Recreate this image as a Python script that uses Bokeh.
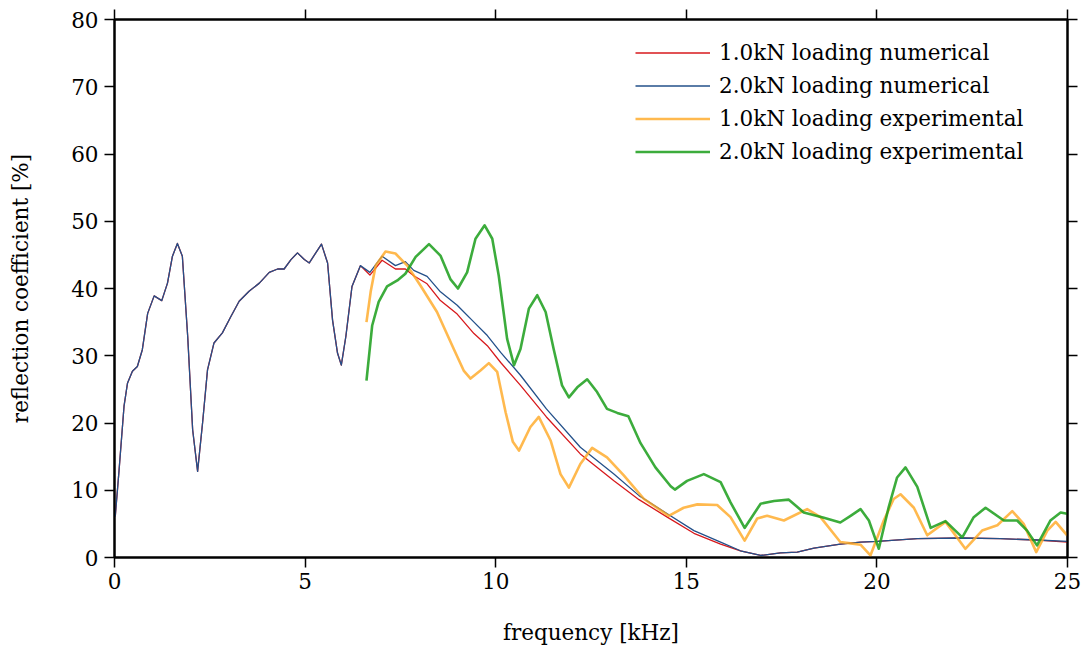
from bokeh.plotting import figure
from bokeh.models import Range1d, LinearAxis, FixedTicker, Legend, LegendItem
from bokeh.embed import file_html
from bokeh.resources import INLINE

# ---------------- data ----------------
# shared numerical part (both loadings coincide below ~6.5 kHz)
num_f_common = [0.02, 0.12, 0.25, 0.34, 0.47, 0.60, 0.73, 0.87, 1.04, 1.24, 1.39, 1.52, 1.65,
                1.78, 1.92, 2.05, 2.18, 2.31, 2.44, 2.61, 2.83, 3.05, 3.27, 3.53, 3.80, 4.06,
                4.28, 4.45, 4.63, 4.80, 4.98, 5.11, 5.28, 5.43, 5.59, 5.72, 5.85, 5.95, 6.07,
                6.23, 6.45]
num_v_common = [6.1, 13.0, 22.5, 25.9, 27.7, 28.4, 30.9, 36.3, 38.9, 38.2, 40.8, 44.8, 46.7,
                44.8, 32.9, 19.0, 12.8, 20.0, 27.9, 31.9, 33.4, 35.8, 38.1, 39.6, 40.8, 42.4,
                42.9, 42.9, 44.3, 45.3, 44.3, 43.8, 45.3, 46.6, 43.8, 35.3, 30.4, 28.6, 32.9,
                40.3, 43.4]

# diverging numerical part
num_f_tail = [6.70, 7.02, 7.37, 7.63, 7.85, 8.20, 8.55, 8.99, 9.43, 9.78, 10.13, 10.65, 11.33,
              12.22, 13.10, 13.76, 14.50, 15.20, 15.90, 16.42, 16.95, 17.47, 17.91, 18.35,
              19.04, 19.57, 20.01, 21.06, 22.19, 23.24, 24.20, 25.0]
num1_v_tail = [42.0, 44.2, 42.9, 42.9, 41.9, 40.7, 38.2, 36.2, 33.3, 31.5, 29.0, 25.6, 20.9,
               15.4, 11.4, 8.6, 6.0, 3.6, 2.0, 1.0, 0.3, 0.7, 0.8, 1.4,
               2.0, 2.3, 2.4, 2.8, 2.9, 2.8, 2.6, 2.3]
num2_v_tail = [42.4, 44.8, 43.4, 44.0, 42.7, 41.8, 39.5, 37.5, 35.0, 33.0, 30.5, 27.1, 22.1,
               16.4, 12.4, 9.2, 6.5, 4.0, 2.3, 1.0, 0.3, 0.7, 0.8, 1.4,
               2.0, 2.3, 2.4, 2.8, 2.9, 2.8, 2.6, 2.4]

exp1_f = [6.61, 6.72, 6.85, 7.11, 7.37, 7.68, 8.03, 8.46, 8.90, 9.16, 9.34, 9.60, 9.82, 10.04,
          10.26, 10.45, 10.61, 10.91, 11.13, 11.44, 11.70, 11.92, 12.22, 12.53, 12.92, 13.36,
          13.89, 14.15, 14.54, 14.93, 15.29, 15.81, 16.16, 16.53, 16.86, 17.12, 17.56, 18.17,
          18.52, 19.04, 19.31, 19.57, 19.83, 20.18, 20.44, 20.62, 20.97, 21.32, 21.80, 22.32,
          22.76, 23.16, 23.55, 23.85, 24.18, 24.47, 24.69, 24.99]
exp1_v = [35.0, 39.5, 43.4, 45.5, 45.2, 43.4, 40.4, 36.5, 31.0, 27.8, 26.6, 27.8, 28.9, 27.6,
          21.6, 17.2, 15.9, 19.4, 20.9, 17.4, 12.4, 10.4, 13.9, 16.3, 14.9, 12.2,
          8.7, 7.7, 6.2, 7.4, 7.9, 7.8, 6.0, 2.5, 5.8, 6.2, 5.5, 7.2,
          6.0, 2.3, 2.1, 1.9, 0.3, 5.5, 8.7, 9.4, 7.4, 3.3, 5.3, 1.3,
          4.0, 4.8, 6.9, 5.0, 0.8, 4.0, 5.3, 3.3]

exp2_f = [6.61, 6.76, 6.93, 7.15, 7.42, 7.63, 7.90, 8.25, 8.55, 8.81, 9.01, 9.25, 9.47, 9.71,
          9.91, 10.08, 10.30, 10.48, 10.65, 10.87, 11.09, 11.31, 11.52, 11.74, 11.92, 12.14,
          12.40, 12.66, 12.92, 13.19, 13.48, 13.80, 14.19, 14.59, 14.70, 15.02, 15.46, 15.90,
          16.16, 16.53, 16.95, 17.30, 17.69, 18.08, 18.61, 19.04, 19.31, 19.57, 19.79, 20.05,
          20.31, 20.53, 20.75, 21.06, 21.41, 21.80, 22.24, 22.54, 22.85, 23.33, 23.68, 23.94,
          24.20, 24.55, 24.82, 24.99]
exp2_v = [26.3, 34.5, 38.0, 40.3, 41.2, 42.2, 44.7, 46.6, 44.9, 41.4, 40.0, 42.4, 47.4, 49.4,
          47.4, 41.9, 32.5, 28.6, 31.0, 37.0, 39.0, 36.5, 31.0, 25.6, 23.8, 25.3,
          26.5, 24.6, 22.1, 21.5, 21.0, 17.0, 13.4, 10.6, 10.1, 11.4, 12.4, 11.2,
          8.2, 4.4, 8.0, 8.4, 8.6, 6.7, 5.9, 5.2, 6.2, 7.2, 5.5, 1.3,
          7.5, 11.9, 13.4, 10.5, 4.4, 5.4, 3.0, 6.0, 7.4, 5.5, 5.5, 4.0,
          1.8, 5.5, 6.7, 6.5]

labels = ["1.0kN loading numerical", "2.0kN loading numerical",
          "1.0kN loading experimental", "2.0kN loading experimental"]
x_ticks = [0, 5, 10, 15, 20, 25]
y_ticks = [0, 10, 20, 30, 40, 50, 60, 70, 80]

FONT = "DejaVu Serif"
FS = "21.5px"

# ---------------- figure ----------------
p = figure(width=1085, height=653, x_range=Range1d(0, 25), y_range=Range1d(0, 80),
           output_backend="svg", toolbar_location=None,
           min_border_left=114, min_border_right=18, min_border_top=19, min_border_bottom=96)
p.grid.visible = False
p.outline_line_color = "black"
p.outline_line_width = 2
p.background_fill_color = "white"
p.border_fill_color = "white"

def style_axis(ax, ticks, labelled=True):
    ax.ticker = FixedTicker(ticks=ticks)
    ax.axis_line_color = "black"
    ax.axis_line_width = 2
    ax.major_tick_line_color = "black"
    ax.major_tick_line_width = 1.5
    ax.major_tick_in = 0
    ax.major_tick_out = 10
    ax.minor_tick_line_color = None
    ax.major_label_text_font = FONT
    ax.major_label_text_color = "black"
    ax.major_label_text_font_size = FS
    if not labelled:
        ax.major_label_overrides = {t: "" for t in ticks}
        ax.major_label_standoff = 0
    ax.axis_label_text_font = FONT
    ax.axis_label_text_font_size = FS
    ax.axis_label_text_font_style = "normal"
    ax.axis_label_text_color = "black"

p.xaxis.axis_label = "frequency [kHz]"
p.yaxis.axis_label = "reflection coefficient [%]"
style_axis(p.xaxis[0], x_ticks)
style_axis(p.yaxis[0], y_ticks)
p.xaxis.major_label_standoff = 5
p.yaxis.major_label_standoff = 6
p.xaxis.axis_label_standoff = 28
p.yaxis.axis_label_standoff = 35

top_ax = LinearAxis()
right_ax = LinearAxis()
style_axis(top_ax, x_ticks, labelled=False)
style_axis(right_ax, y_ticks, labelled=False)
p.add_layout(top_ax, "above")
p.add_layout(right_ax, "right")

num1_f = num_f_common + num_f_tail
num1_v = num_v_common + num1_v_tail
num2_v = num_v_common + num2_v_tail

r1 = p.line(num1_f, num1_v, line_color="#d7191c", line_width=1.3, line_join="round")
r2 = p.line(num1_f, num2_v, line_color="#23508a", line_width=1.3, line_join="round")
r3 = p.line(exp1_f, exp1_v, line_color="#ffa722", line_width=2.6, line_alpha=0.8, line_join="round")
r4 = p.line(exp2_f, exp2_v, line_color="#1a9e1a", line_width=2.6, line_alpha=0.85, line_join="round")

legend = Legend(items=[LegendItem(label=labels[0], renderers=[r1]),
                       LegendItem(label=labels[1], renderers=[r2]),
                       LegendItem(label=labels[2], renderers=[r3]),
                       LegendItem(label=labels[3], renderers=[r4])],
                location=(521, 393))
legend.border_line_color = None
legend.background_fill_alpha = 0
legend.label_text_font = FONT
legend.label_text_font_size = FS
legend.label_text_color = "black"
legend.glyph_width = 75
legend.glyph_height = 23
legend.label_height = 23
legend.spacing = 8
legend.padding = 10
legend.label_standoff = 9
p.add_layout(legend, "center")

open("out.html", "w").write(file_html(p, INLINE))
